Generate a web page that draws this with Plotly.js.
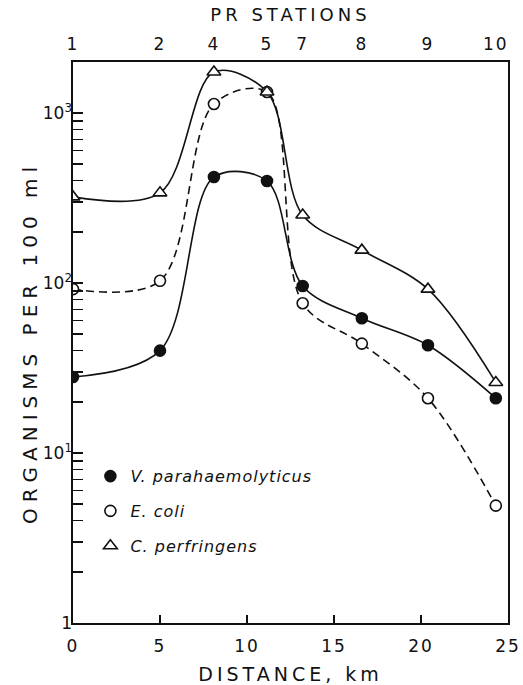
<!DOCTYPE html>
<html>
<head>
<meta charset="utf-8">
<script src="https://cdn.plot.ly/plotly-3.0.1.min.js"></script>
<style>
  html, body { margin: 0; padding: 0; background: #fff; }
  #chart { width: 523px; height: 685px; }
  .xtitle, .x2title { letter-spacing: 4px; }
  .ytitle { letter-spacing: 6px; }
  .xtick text, .x2tick text { letter-spacing: 2px; }
  .legendtext { letter-spacing: 1px; }
</style>
</head>
<body>
<div id="chart"></div>
<script>
// Station positions (km) and labels of the top axis
const stationKm = [0, 5.0, 8.1, 11.15, 13.2, 16.6, 20.4, 24.3];
const stationLabels = ['1', '2', '4', '5', '7', '8', '9', '10'];

// Organisms per 100 ml
const vParahaemolyticus = [28, 40, 420, 398, 96, 62, 43, 21];
const eColi = [92, 103, 1130, 1330, 76, 44, 21, 4.9];
const cPerfringens = [321, 339, 1742, 1330, 251, 156, 92, 26];

// Series names
const seriesNames = ['V. parahaemolyticus', 'E. coli', 'C. perfringens'];

// Axis ticks
const xTickVals = [0, 5, 10, 15, 20, 25];
const xTickText = ['0', '5', '10', '15', '20', '25'];
const yTickVals = [1,2,3,4,5,6,7,8,9,10,20,30,40,50,60,70,80,90,100,200,300,400,500,600,700,800,900,1000];
const yTickText = ['1','','','','','','','','','10<sup>1</sup>','','','','','','','','','10<sup>2</sup>','','','','','','','','','10<sup>3</sup>'];

const ink = '#111';
const fontFam = 'DejaVu Sans, sans-serif';

const lineTrace = (y, dash) => ({
  x: stationKm, y: y, xaxis: 'x', yaxis: 'y',
  mode: 'lines', type: 'scatter', showlegend: false, hoverinfo: 'skip',
  line: { color: ink, width: 1.6, shape: 'spline', smoothing: 0.95, dash: dash }
});

const markerTrace = (y, name, symbol, fill, size, group) => ({
  x: stationKm, y: y, xaxis: 'x2', yaxis: 'y',
  mode: 'markers', type: 'scatter', name: name, legendgroup: group,
  marker: { symbol: symbol, size: size, color: fill, line: { color: ink, width: 1.6 } }
});

const data = [
  lineTrace(cPerfringens, 'solid'),
  lineTrace(eColi, '8px,5px'),
  lineTrace(vParahaemolyticus, 'solid'),
  markerTrace(vParahaemolyticus, seriesNames[0], 'circle', ink, 11, 'g1'),
  markerTrace(eColi, seriesNames[1], 'circle', '#fff', 11, 'g2'),
  markerTrace(cPerfringens, seriesNames[2], 'triangle-up', '#fff', 12, 'g3')
];

const layout = {
  width: 523, height: 685,
  margin: { l: 73, r: 15, t: 62, b: 62 },
  paper_bgcolor: '#fff', plot_bgcolor: '#fff',
  font: { family: fontFam, color: ink, size: 17 },
  showlegend: true,
  legend: {
    x: 0.04, y: 0.292, xanchor: 'left', yanchor: 'top',
    bgcolor: 'rgba(0,0,0,0)', borderwidth: 0,
    font: { family: fontFam, size: 16, style: 'italic', color: ink },
    tracegroupgap: 11, traceorder: 'grouped'
  },
  xaxis: {
    range: [0, 25], showgrid: false, zeroline: false,
    showline: true, linecolor: ink, linewidth: 1.6, mirror: true,
    ticks: 'inside', ticklen: 8, tickwidth: 1.5, tickcolor: ink,
    tickvals: xTickVals, ticktext: xTickText,
    tickfont: { size: 17 }, ticklabelstandoff: 7,
    title: { text: 'DISTANCE, km', font: { size: 19 }, standoff: 12 }
  },
  xaxis2: {
    overlaying: 'x', side: 'top', range: [0, 25],
    showgrid: false, zeroline: false, showline: false, ticks: '',
    tickvals: stationKm, ticktext: stationLabels,
    tickfont: { size: 17 }, ticklabelstandoff: 8,
    title: { text: 'PR STATIONS', font: { size: 18 }, standoff: 7 }
  },
  yaxis: {
    type: 'log', range: [0, 3.3], showgrid: false, zeroline: false,
    showline: true, linecolor: ink, linewidth: 1.6, mirror: true,
    ticks: 'inside', ticklen: 10, tickwidth: 1.5, tickcolor: ink,
    tickvals: yTickVals, ticktext: yTickText,
    tickfont: { size: 17 }, ticklabelstandoff: -4,
    title: { text: 'ORGANISMS PER 100 ml', font: { size: 20 }, standoff: 0 }
  }
};

Plotly.newPlot('chart', data, layout, { displayModeBar: false, staticPlot: true });
</script>
</body>
</html>
